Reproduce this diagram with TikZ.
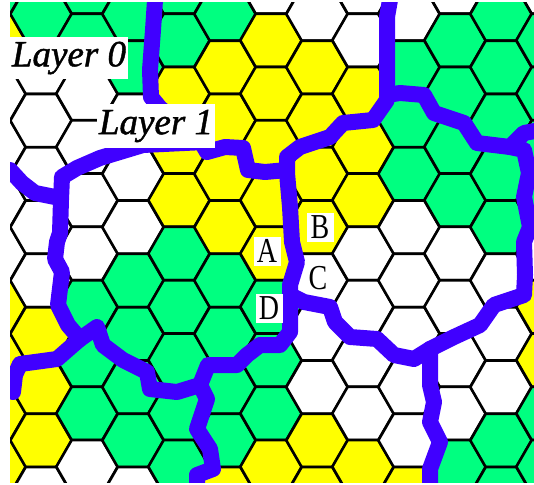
\documentclass[tikz,border=0pt]{standalone}
\usepackage{fontspec}
\setmainfont{Liberation Serif}
\newfontfamily\layerfont[FakeBold=1.2]{Liberation Serif Italic}
\newfontfamily\cellfont[FakeStretch=0.8]{Liberation Serif}
\usetikzlibrary{shapes.geometric}
\definecolor{G}{RGB}{0,255,128}
\definecolor{Y}{RGB}{255,255,0}
\definecolor{W}{RGB}{255,255,255}
\definecolor{regionblue}{RGB}{64,0,255}

\begin{document}
\begin{tikzpicture}[x=1pt, y=-1pt,
          hexcell/.style={regular polygon, regular polygon sides=6, draw=black, line width=2.6pt,
                          minimum size=61.4pt, inner sep=0pt, outer sep=0pt},
          border/.style={draw=regionblue, line width=16pt, line join=round, line cap=round},
          layer/.style={fill=white, font=\fontsize{37}{37}\layerfont, inner sep=0pt,
                        minimum width=118pt},
          cell/.style={fill=white, font=\fontsize{35}{35}\cellfont, inner sep=0pt,
                       minimum width=27pt, minimum height=29pt}]
        \useasboundingbox (0,0) rectangle (534,484);
        \begin{scope}
          \clip (10,3) rectangle (534,482);
          % hexagons, one column at a time
          \foreach \k/\first/\cells in {
              -1/-13/{G,Y,W,W,W,W,Y,Y,Y,Y},
               0/14/{G,W,W,W,W,W,Y,Y,Y,W},
               1/-13/{G,G,W,W,W,W,G,G,G,W},
               2/14/{G,G,W,W,W,G,G,G,G,W},
               3/-13/{G,G,Y,Y,Y,G,G,G,G,G},
               4/14/{G,Y,Y,Y,Y,G,G,G,G,Y},
               5/-13/{W,Y,Y,Y,Y,Y,G,G,G,Y},
               6/14/{W,Y,Y,Y,Y,W,W,W,Y,Y},
               7/-13/{W,W,Y,Y,Y,W,W,W,W,Y},
               8/14/{W,G,G,G,W,W,W,W,W,Y},
               9/-13/{W,G,G,G,G,W,W,W,W,G},
              10/14/{G,G,G,G,G,W,W,W,G,G},
              11/-13/{W,G,G,G,G,W,Y,Y,G,G}}{
            \foreach \c [count=\m from 0] in \cells {
              \node[hexcell, fill=\c] (h\k-\m) at ({41+46*\k},{\first+53.3*\m}) {};
            }
          }
          % region borders
          \draw[border] (155,0) -- (153,30) -- (150,70) -- (151,97) -- (160,108) -- (200,140) -- (207,152)
                -- (225,147) -- (243,148) -- (248,170) -- (265,172) -- (287,170);
          \draw[border] (10,170) -- (22,183) -- (35,193) -- (60,198);
          \draw[border] (205,142) -- (143,145) -- (100,158) -- (77,168) -- (62,177) -- (61,200) -- (60,233)
                -- (57,242) -- (55,259) -- (62,272) -- (58,305) -- (68,325) -- (80,339) -- (73,345)
                -- (57,359) -- (20,364) -- (15,375) -- (13,392);
          \draw[border] (80,339) -- (97,327) -- (103,345) -- (123,360) -- (147,372) -- (150,389) -- (177,392)
                -- (200,385) -- (208,365) -- (237,365) -- (247,355) -- (260,345) -- (280,345) -- (290,332)
                -- (290,305) -- (290,285) -- (297,262) -- (292,242) -- (290,207) -- (287,173) -- (287,157)
                -- (300,147) -- (330,137) -- (343,123) -- (373,120) -- (387,100) -- (387,67) -- (387,40)
                -- (387,17) -- (390,0);
          \draw[border] (387,95) -- (400,93) -- (424,95) -- (434,113) -- (464,123) -- (477,143) -- (510,147)
                -- (524,133) -- (540,130);
          \draw[border] (510,147) -- (524,150) -- (529,173) -- (524,197) -- (530,227) -- (524,242) -- (525,275)
                -- (524,295) -- (494,305) -- (480,325) -- (454,337) -- (430,349) -- (414,359) -- (394,355)
                -- (377,339) -- (350,337) -- (335,322) -- (330,307) -- (304,302) -- (290,295);
          \draw[border] (430,349) -- (430,385) -- (434,402) -- (430,422) -- (440,442) -- (430,469) -- (430,490);
          \draw[border] (200,385) -- (207,399) -- (197,429) -- (210,449) -- (213,469) -- (197,475) -- (197,490);
        \end{scope}
        % labels
        \node[layer, minimum height=42pt] (l0) at (69,58) {Layer 0};
        \node[layer, minimum height=44pt] (l1) at (156,126) {Layer 1};
        \node[cell] (a) at (267,251) {A};
        \node[cell] (b) at (320,227) {B};
        \node[cell, fill=none] (c) at (318,278) {C};
        \node[cell] (d) at (269,308) {D};
\end{tikzpicture}
\end{document}
